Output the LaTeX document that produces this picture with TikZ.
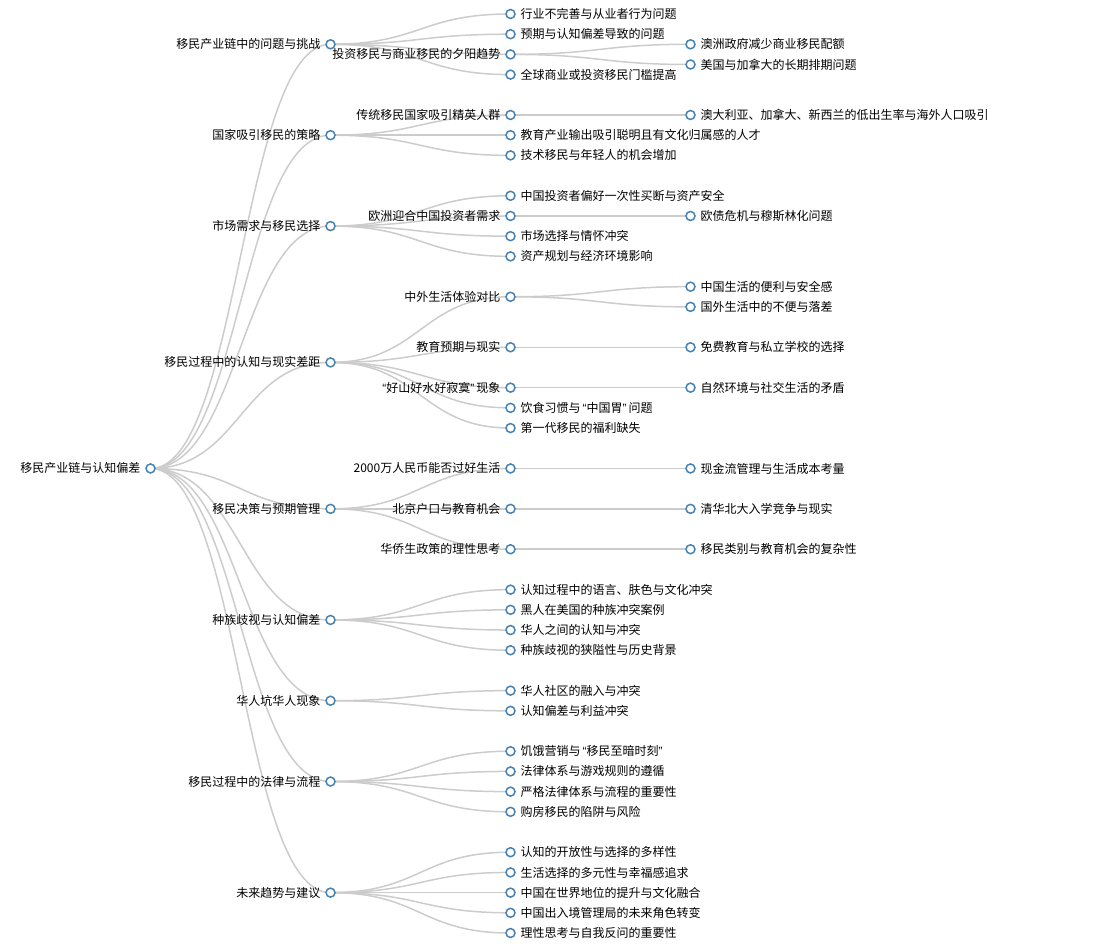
\documentclass[tikz,border=0pt]{standalone}
\usepackage{fontspec}
\newfontfamily\cjk{Noto Sans CJK SC}
\newfontfamily\lat{Liberation Sans}
\newcommand\qleft{\makebox[6pt][r]{\lat “}}
\newcommand\qright{\makebox[6pt][l]{\lat ”}}
\usetikzlibrary{backgrounds,calc}
\definecolor{dotblue}{HTML}{4682B4}
\definecolor{linkgray}{HTML}{CCCCCC}
\tikzset{
  dot/.style={circle, draw=dotblue, fill=white, line width=1.5pt, minimum size=9pt, inner sep=0pt, outer sep=0pt},
  lt/.style={font=\cjk\fontsize{12}{14}\selectfont, text=black, inner sep=0pt},
  lnk/.style={draw=linkgray, line width=1.5pt},
  L/.style={dot, label={[lt]left:#1}},
  R/.style={dot, label={[lt]right:#1}},
}
\newcommand\lk[2]{\path[lnk] let \p1=(#1), \p2=(#2) in (\p1) .. controls ({(\x1+\x2)/2},\y1) and ({(\x1+\x2)/2},\y2) .. (\p2);}
\begin{document}
\begin{tikzpicture}[label distance=5.5pt]
\useasboundingbox (0,0) rectangle (1103pt,-949pt);
\begin{scope}[x=1pt, y=-20.198pt, yshift=-14pt]
\node[L=移民产业链与认知偏差] (r) at (150.5,22.5) {};
% 1
\node[L=移民产业链中的问题与挑战] (a1) at (330.5,1.5) {};
\node[R=行业不完善与从业者行为问题] (a1b1) at (510.5,0) {};
\node[R=预期与认知偏差导致的问题] (a1b2) at (510.5,1) {};
\node[L=投资移民与商业移民的夕阳趋势] (a1b3) at (510.5,2) {};
\node[R=澳洲政府减少商业移民配额] (a1b3c1) at (690.5,1.5) {};
\node[R=美国与加拿大的长期排期问题] (a1b3c2) at (690.5,2.5) {};
\node[R=全球商业或投资移民门槛提高] (a1b4) at (510.5,3) {};
% 2
\node[L=国家吸引移民的策略] (a2) at (330.5,6) {};
\node[L=传统移民国家吸引精英人群] (a2b1) at (510.5,5) {};
\node[R=澳大利亚、加拿大、新西兰的低出生率与海外人口吸引] (a2b1c1) at (690.5,5) {};
\node[R=教育产业输出吸引聪明且有文化归属感的人才] (a2b2) at (510.5,6) {};
\node[R=技术移民与年轻人的机会增加] (a2b3) at (510.5,7) {};
% 3
\node[L=市场需求与移民选择] (a3) at (330.5,10.5) {};
\node[R=中国投资者偏好一次性买断与资产安全] (a3b1) at (510.5,9) {};
\node[L=欧洲迎合中国投资者需求] (a3b2) at (510.5,10) {};
\node[R=欧债危机与穆斯林化问题] (a3b2c1) at (690.5,10) {};
\node[R=市场选择与情怀冲突] (a3b3) at (510.5,11) {};
\node[R=资产规划与经济环境影响] (a3b4) at (510.5,12) {};
% 4
\node[L=移民过程中的认知与现实差距] (a4) at (330.5,17.25) {};
\node[L=中外生活体验对比] (a4b1) at (510.5,14) {};
\node[R=中国生活的便利与安全感] (a4b1c1) at (690.5,13.5) {};
\node[R=国外生活中的不便与落差] (a4b1c2) at (690.5,14.5) {};
\node[L=教育预期与现实] (a4b2) at (510.5,16.5) {};
\node[R=免费教育与私立学校的选择] (a4b2c1) at (690.5,16.5) {};
\node[L={\qleft 好山好水好寂寞\qright 现象}] (a4b3) at (510.5,18.5) {};
\node[R=自然环境与社交生活的矛盾] (a4b3c1) at (690.5,18.5) {};
\node[R={饮食习惯与\qleft 中国胃\qright 问题}] (a4b4) at (510.5,19.5) {};
\node[R=第一代移民的福利缺失] (a4b5) at (510.5,20.5) {};
% 5
\node[L=移民决策与预期管理] (a5) at (330.5,24.5) {};
\node[L=2000万人民币能否过好生活] (a5b1) at (510.5,22.5) {};
\node[R=现金流管理与生活成本考量] (a5b1c1) at (690.5,22.5) {};
\node[L=北京户口与教育机会] (a5b2) at (510.5,24.5) {};
\node[R=清华北大入学竞争与现实] (a5b2c1) at (690.5,24.5) {};
\node[L=华侨生政策的理性思考] (a5b3) at (510.5,26.5) {};
\node[R=移民类别与教育机会的复杂性] (a5b3c1) at (690.5,26.5) {};
% 6
\node[L=种族歧视与认知偏差] (a6) at (330.5,30) {};
\node[R=认知过程中的语言、肤色与文化冲突] (a6b1) at (510.5,28.5) {};
\node[R=黑人在美国的种族冲突案例] (a6b2) at (510.5,29.5) {};
\node[R=华人之间的认知与冲突] (a6b3) at (510.5,30.5) {};
\node[R=种族歧视的狭隘性与历史背景] (a6b4) at (510.5,31.5) {};
% 7
\node[L=华人坑华人现象] (a7) at (330.5,34) {};
\node[R=华人社区的融入与冲突] (a7b1) at (510.5,33.5) {};
\node[R=认知偏差与利益冲突] (a7b2) at (510.5,34.5) {};
% 8
\node[L=移民过程中的法律与流程] (a8) at (330.5,38) {};
\node[R={饥饿营销与\qleft 移民至暗时刻\qright}] (a8b1) at (510.5,36.5) {};
\node[R=法律体系与游戏规则的遵循] (a8b2) at (510.5,37.5) {};
\node[R=严格法律体系与流程的重要性] (a8b3) at (510.5,38.5) {};
\node[R=购房移民的陷阱与风险] (a8b4) at (510.5,39.5) {};
% 9
\node[L=未来趋势与建议] (a9) at (330.5,43.5) {};
\node[R=认知的开放性与选择的多样性] (a9b1) at (510.5,41.5) {};
\node[R=生活选择的多元性与幸福感追求] (a9b2) at (510.5,42.5) {};
\node[R=中国在世界地位的提升与文化融合] (a9b3) at (510.5,43.5) {};
\node[R=中国出入境管理局的未来角色转变] (a9b4) at (510.5,44.5) {};
\node[R=理性思考与自我反问的重要性] (a9b5) at (510.5,45.5) {};
\end{scope}
\begin{pgfonlayer}{background}
\foreach \c in {a1,a2,a3,a4,a5,a6,a7,a8,a9} {\lk{r}{\c}}
\foreach \c in {a1b1,a1b2,a1b3,a1b4} {\lk{a1}{\c}}
\lk{a1b3}{a1b3c1} \lk{a1b3}{a1b3c2}
\foreach \c in {a2b1,a2b2,a2b3} {\lk{a2}{\c}}
\lk{a2b1}{a2b1c1}
\foreach \c in {a3b1,a3b2,a3b3,a3b4} {\lk{a3}{\c}}
\lk{a3b2}{a3b2c1}
\foreach \c in {a4b1,a4b2,a4b3,a4b4,a4b5} {\lk{a4}{\c}}
\lk{a4b1}{a4b1c1} \lk{a4b1}{a4b1c2} \lk{a4b2}{a4b2c1} \lk{a4b3}{a4b3c1}
\foreach \c in {a5b1,a5b2,a5b3} {\lk{a5}{\c}}
\lk{a5b1}{a5b1c1} \lk{a5b2}{a5b2c1} \lk{a5b3}{a5b3c1}
\foreach \c in {a6b1,a6b2,a6b3,a6b4} {\lk{a6}{\c}}
\foreach \c in {a7b1,a7b2} {\lk{a7}{\c}}
\foreach \c in {a8b1,a8b2,a8b3,a8b4} {\lk{a8}{\c}}
\foreach \c in {a9b1,a9b2,a9b3,a9b4,a9b5} {\lk{a9}{\c}}
\end{pgfonlayer}
\end{tikzpicture}
\end{document}
